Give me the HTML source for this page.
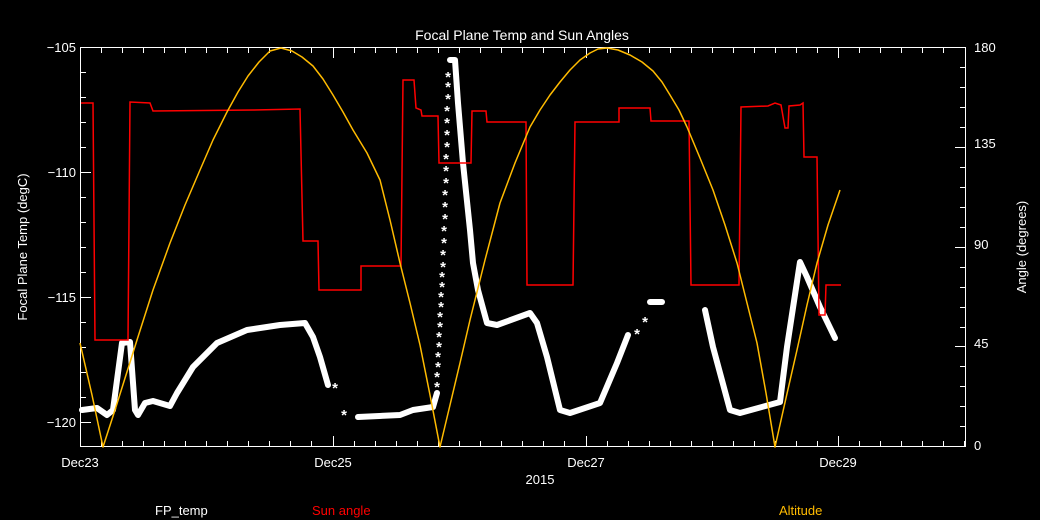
<!DOCTYPE html>
<html><head><meta charset="utf-8"><style>
html,body{margin:0;padding:0;background:#000;}
svg{display:block;font-family:"Liberation Sans",sans-serif;}
</style></head><body>
<svg width="1040" height="520" viewBox="0 0 1040 520" xmlns="http://www.w3.org/2000/svg">
<rect width="1040" height="520" fill="#000"/>
<text x="522" y="40" fill="#fff" font-size="14" text-anchor="middle">Focal Plane Temp and Sun Angles</text>
<rect x="80.5" y="47.5" width="885" height="399" fill="none" stroke="#fff" stroke-width="1"/>
<g stroke="#fff" stroke-width="1">
<path d="M80.5 446v-10M333.5 446v-10M586.5 446v-10M838.5 446v-10M80.5 48v10M333.5 48v10M586.5 48v10M838.5 48v10"/>
<path d="M101.5 446v-5M122.5 446v-5M143.5 446v-5M164.5 446v-5M185.5 446v-5M206.5 446v-5M227.5 446v-5M248.5 446v-5M269.5 446v-5M290.5 446v-5M311.5 446v-5M354.5 446v-5M375.5 446v-5M396.5 446v-5M417.5 446v-5M438.5 446v-5M459.5 446v-5M480.5 446v-5M501.5 446v-5M522.5 446v-5M543.5 446v-5M564.5 446v-5M607.5 446v-5M628.5 446v-5M649.5 446v-5M670.5 446v-5M691.5 446v-5M712.5 446v-5M733.5 446v-5M754.5 446v-5M775.5 446v-5M796.5 446v-5M817.5 446v-5M859.5 446v-5M880.5 446v-5M901.5 446v-5M922.5 446v-5M943.5 446v-5M964.5 446v-5"/>
<path d="M101.5 48v5M122.5 48v5M143.5 48v5M164.5 48v5M185.5 48v5M206.5 48v5M227.5 48v5M248.5 48v5M269.5 48v5M290.5 48v5M311.5 48v5M354.5 48v5M375.5 48v5M396.5 48v5M417.5 48v5M438.5 48v5M459.5 48v5M480.5 48v5M501.5 48v5M522.5 48v5M543.5 48v5M564.5 48v5M607.5 48v5M628.5 48v5M649.5 48v5M670.5 48v5M691.5 48v5M712.5 48v5M733.5 48v5M754.5 48v5M775.5 48v5M796.5 48v5M817.5 48v5M859.5 48v5M880.5 48v5M901.5 48v5M922.5 48v5M943.5 48v5"/>
<path d="M81 47.5h10M81 172.5h10M81 297.5h10M81 422.5h10"/>
<path d="M81 72.5h5M81 97.5h5M81 122.5h5M81 147.5h5M81 197.5h5M81 222.5h5M81 247.5h5M81 272.5h5M81 322.5h5M81 347.5h5M81 372.5h5M81 397.5h5"/>
<path d="M965 47.5h-10M965 147.5h-10M965 247.5h-10M965 346.5h-10"/>
<path d="M965 67.5h-5M965 87.5h-5M965 107.5h-5M965 127.5h-5M965 167.5h-5M965 187.5h-5M965 207.5h-5M965 227.5h-5M965 267.5h-5M965 287.5h-5M965 307.5h-5M965 327.5h-5M965 366.5h-5M965 386.5h-5M965 406.5h-5M965 426.5h-5"/>
</g>
<g fill="#fff" font-size="13">
<text x="76" y="52" text-anchor="end">−105</text>
<text x="76" y="177" text-anchor="end">−110</text>
<text x="76" y="302" text-anchor="end">−115</text>
<text x="76" y="427" text-anchor="end">−120</text>
<text x="974" y="52">180</text>
<text x="974" y="148">135</text>
<text x="974" y="249">90</text>
<text x="974" y="348">45</text>
<text x="974" y="450">0</text>
<text x="80" y="467" text-anchor="middle">Dec23</text>
<text x="333" y="467" text-anchor="middle">Dec25</text>
<text x="586" y="467" text-anchor="middle">Dec27</text>
<text x="838" y="467" text-anchor="middle">Dec29</text>
<text x="540" y="484" text-anchor="middle">2015</text>
<text transform="translate(27,247) rotate(-90)" text-anchor="middle">Focal Plane Temp (degC)</text>
<text transform="translate(1026,247) rotate(-90)" text-anchor="middle">Angle (degrees)</text>
<text x="155" y="515">FP_temp</text>
<text x="312" y="515" fill="#ff0000">Sun angle</text>
<text x="779" y="515" fill="#ffbb00">Altitude</text>
</g>
<g fill="none" stroke="#fff" stroke-width="6" stroke-linejoin="round" stroke-linecap="round">
<polyline points="82,410 97,408 107,415 113,410 122,343 130,342 135,410 138,415 145,403 153,401 170,406 177,393 193,367 217,343 247,330 280,325 305,323 313,337 320,357 328,385"/>
<polyline points="358,417 400,415 413,410 433,407 437,393"/>
<polyline points="450,60 455,60 458,103 463,163 470,230 473,263 478,290 487,323 497,325 530,313 537,323 547,357 560,410 570,413 600,403 617,363 628,335"/>
<polyline points="650,302 662,302"/>
<polyline points="705,310 713,347 730,410 740,413 780,402 787,347 800,262 807,277 820,307 835,338"/>
</g>
<g fill="#fff" font-size="15" font-weight="bold" text-anchor="middle">
<text x="335" y="393">*</text><text x="344" y="420">*</text>
<text x="637" y="339">*</text><text x="645" y="327">*</text>
<text x="437" y="392">*</text><text x="437" y="382">*</text><text x="438" y="372">*</text><text x="438" y="362">*</text><text x="439" y="352">*</text><text x="439" y="342">*</text><text x="440" y="332">*</text><text x="440" y="322">*</text><text x="441" y="312">*</text><text x="441" y="302">*</text><text x="442" y="292">*</text><text x="442" y="282">*</text><text x="443" y="272">*</text><text x="443" y="260">*</text><text x="444" y="248">*</text><text x="444" y="236">*</text><text x="445" y="224">*</text><text x="445" y="212">*</text><text x="445" y="200">*</text><text x="446" y="188">*</text><text x="446" y="176">*</text><text x="446" y="164">*</text><text x="447" y="152">*</text><text x="447" y="140">*</text><text x="447" y="128">*</text><text x="447" y="116">*</text><text x="448" y="104">*</text><text x="448" y="92">*</text><text x="448" y="82">*</text>
</g>
<polyline fill="none" stroke="#ff0000" stroke-width="1.5" points="81,103 93,103 95,340 128,340 130,102 150,103 153,111 253,110 300,109 303,241 318,241 319,290 361,290 361,266 401,266 403,80 414,80 416,108 421,110 422,116 438,116 439,163 471,163 472,111 486,111 487,122 526,122 527,285 573,285 575,122 619,122 619,108 650,108 651,121 689,121 691,285 739,285 741,107 768,106 775,103 781,105 785,128 788,128 789,106 800,105 803,103 804,157 817,157 819,315 825,315 826,285 841,285"/>
<polyline fill="none" stroke="#ffbb00" stroke-width="1.5" stroke-linejoin="round" points="80,343 92,395 103,447 115,410 126,375 137,340 153,290 170,243 185,205 200,170 213,140 227,112 238,92 248,76 259,62 270,51 281,48 292,51 302,57 313,66 323,79 333,95 343,112 353,130 367,153 380,180 390,220 400,263 410,303 420,345 430,395 440,447 450,405 460,363 470,320 485,260 500,203 515,163 530,127 540,110 550,95 560,82 570,70 580,60 590,53 598,49 607,48 618,50 630,55 642,62 653,71 662,82 670,95 679,110 687,127 700,158 713,190 725,225 737,263 747,303 757,343 766,393 775,447 786,398 797,350 807,305 817,263 828,225 840,190"/>
</svg>
</body></html>
